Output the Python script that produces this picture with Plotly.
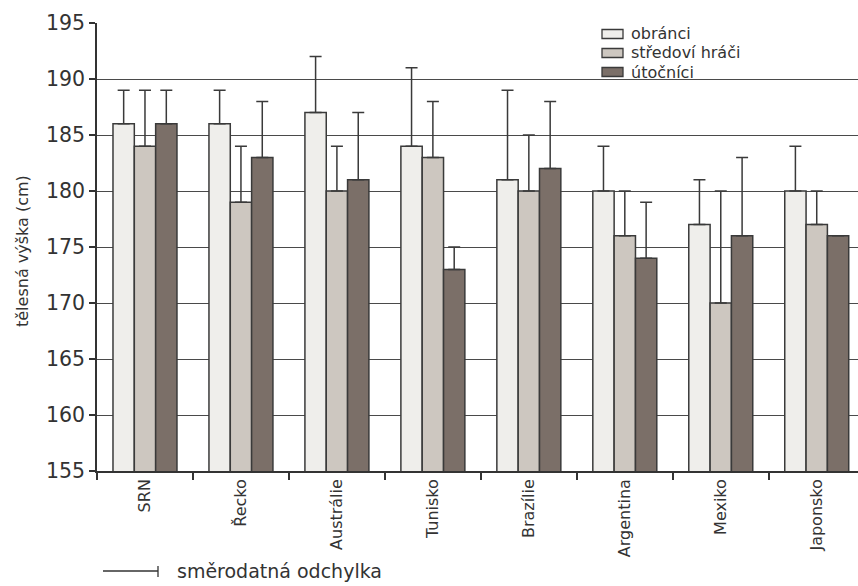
import plotly.graph_objects as go

# Countries and mean body height (cm) by playing position, with standard deviation
countries = ["SRN", "Řecko", "Austrálie", "Tunisko", "Brazílie", "Argentina", "Mexiko", "Japonsko"]
series_names = ["obránci", "středoví hráči", "útočníci"]

obranci = [186, 186, 187, 184, 181, 180, 177, 180]
obranci_sd = [3, 3, 5, 7, 8, 4, 4, 4]

stredovi = [184, 179, 180, 183, 180, 176, 170, 177]
stredovi_sd = [5, 5, 4, 5, 5, 4, 10, 3]

utocnici = [186, 183, 181, 173, 182, 174, 176, 176]
utocnici_sd = [3, 5, 6, 2, 6, 5, 7, 0]

y_ticks = [155, 160, 165, 170, 175, 180, 185, 190, 195]

values = [obranci, stredovi, utocnici]
sds = [obranci_sd, stredovi_sd, utocnici_sd]
fills = ["#efeeeb", "#cdc7c0", "#7b6f68"]

INK = "#333333"
EDGE = "#3a3a3a"
FONT = "DejaVu Sans"

fig = go.Figure()
for name, vals, sd, fill in zip(series_names, values, sds, fills):
    fig.add_trace(go.Bar(
        name=name,
        x=countries,
        y=vals,
        marker=dict(color=fill, line=dict(color=EDGE, width=1.5)),
        error_y=dict(
            type="data",
            symmetric=False,
            array=sd,
            arrayminus=[0] * len(sd),
            color=EDGE,
            thickness=1.5,
            width=6,
        ),
        showlegend=False,
    ))

# plot area (pixels): x 97..858, y 23..471
L, T, W, H = 97, 23, 761, 448


def px_x(px):
    return (px - L) / W


def px_y(py):
    return (T + H - py) / H


shapes = [
    # "standard deviation" key: horizontal line ending with a short bar
    dict(type="line", xref="paper", yref="paper",
         x0=px_x(103), x1=px_x(158), y0=px_y(571), y1=px_y(571),
         line=dict(color=INK, width=1.3)),
    dict(type="line", xref="paper", yref="paper",
         x0=px_x(158), x1=px_x(158), y0=px_y(566), y1=px_y(577),
         line=dict(color=INK, width=1.3)),
]

annotations = [
    dict(text="tělesná výška (cm)", xref="paper", yref="paper",
         x=px_x(22), y=px_y(251), textangle=-90, showarrow=False,
         xanchor="center", yanchor="middle",
         font=dict(family=FONT, size=16, color=INK)),
    dict(text="směrodatná odchylka", xref="paper", yref="paper",
         x=px_x(175), y=px_y(571), showarrow=False,
         xanchor="left", yanchor="middle",
         font=dict(family=FONT, size=19, color=INK)),
]

# key for the three positions: wide swatch + label, top right of the plot
legend_rows_py = [34, 53, 72]
for name, fill, py in zip(series_names, fills, legend_rows_py):
    shapes.append(dict(type="rect", xref="paper", yref="paper",
                       x0=px_x(602), x1=px_x(623), y0=px_y(py + 4.5), y1=px_y(py - 4.5),
                       fillcolor=fill, line=dict(color=EDGE, width=1.3)))
    annotations.append(dict(text=name, xref="paper", yref="paper",
                            x=px_x(629), y=px_y(py), showarrow=False,
                            xanchor="left", yanchor="middle",
                            font=dict(family=FONT, size=16, color=INK)))

fig.update_layout(
    width=858,
    height=586,
    margin=dict(l=L, r=0, t=T, b=586 - T - H, pad=0),
    paper_bgcolor="white",
    plot_bgcolor="white",
    barmode="group",
    bargap=1 / 3,
    bargroupgap=0,
    font=dict(family=FONT, color=INK),
    xaxis=dict(
        type="category",
        range=[-0.5, 7.43],
        tickangle=-90,
        ticks="outside",
        tickson="boundaries",
        ticklen=7,
        tickwidth=1.5,
        tickcolor=INK,
        showline=True,
        linecolor=INK,
        linewidth=1.5,
        showgrid=False,
        tickfont=dict(family=FONT, size=16, color=INK),
    ),
    yaxis=dict(
        range=[155, 195],
        tickvals=y_ticks,
        ticks="outside",
        ticklen=6,
        tickwidth=1.5,
        tickcolor=INK,
        showline=True,
        linecolor=INK,
        linewidth=1.5,
        showgrid=True,
        gridcolor="#4a4a4a",
        gridwidth=1.3,
        zeroline=False,
        tickfont=dict(family=FONT, size=20.5, color=INK),
    ),
    shapes=shapes,
    annotations=annotations,
)

fig.write_html("out.html")
